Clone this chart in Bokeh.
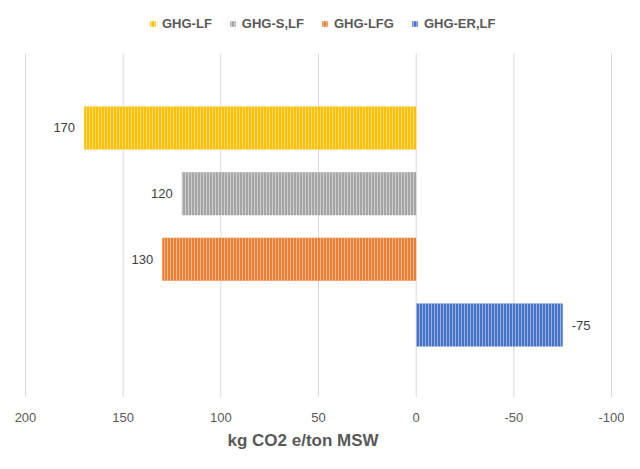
from bokeh.plotting import figure
from bokeh.models import (ColumnDataSource, Range1d, FixedTicker, Legend, LegendItem,
                          CustomJSTickFormatter, Title)
from bokeh.core.properties import value
from bokeh.embed import file_html
from bokeh.resources import INLINE

# ---- data ----
categories = ["GHG-LF", "GHG-S,LF", "GHG-LFG", "GHG-ER,LF"]
emissions = [170, 120, 130, -75]
colors = ["#FFC000", "#A5A5A5", "#ED7D31", "#4472C4"]
x_ticks = [200, 150, 100, 50, 0, -50, -100]
axis_title = "kg CO2 e/ton MSW"

FONT = "Liberation Sans"
Y_TOP, Y_BOTTOM = -1.9415, 4.104      # visible y range (category units)
GRID_TOP = -1.1345                    # gridlines start below the legend

positions = list(range(len(categories)))
labels = [str(v) for v in emissions]
aligns = ["right" if v >= 0 else "left" for v in emissions]
offsets = [-9 if v >= 0 else 9 for v in emissions]

src = ColumnDataSource(dict(y=positions, v=emissions, cat=categories, color=colors,
                            label=labels, align=aligns, off=offsets))
grid_src = ColumnDataSource(dict(x=x_ticks, y0=[GRID_TOP] * len(x_ticks),
                                 y1=[Y_BOTTOM] * len(x_ticks)))

p = figure(width=624, height=453, output_backend="svg", toolbar_location=None,
           x_range=Range1d(200.5, -100.5), y_range=Range1d(Y_BOTTOM, Y_TOP),
           y_axis_location=None, min_border_left=24, min_border_right=12,
           min_border_top=0, min_border_bottom=56)
p.outline_line_color = None
p.background_fill_color = "white"
p.border_fill_color = "white"
p.grid.visible = False

p.segment(x0="x", x1="x", y0="y0", y1="y1", source=grid_src,
          line_color="#D9D9D9", line_width=1)

bars = p.hbar(y="y", left=0, right="v", height=0.655, source=src,
              fill_color="color", line_color=None,
              hatch_pattern="vertical_line", hatch_color="white",
              hatch_scale=3, hatch_weight=1, hatch_alpha=0.45)

p.text(x="v", y="y", text="label", source=src, text_align="align", x_offset="off",
       text_baseline="middle", text_font=value(FONT), text_font_size="13px",
       text_color="#404040")

# axis
p.xaxis.ticker = FixedTicker(ticks=x_ticks)
p.xaxis.formatter = CustomJSTickFormatter(code="return String(tick)")
p.xaxis.axis_line_color = None
p.xaxis.major_tick_line_color = None
p.xaxis.minor_tick_line_color = None
p.xaxis.major_label_standoff = 9
p.xaxis.major_label_text_font = FONT
p.xaxis.major_label_text_font_size = "13px"
p.xaxis.major_label_text_color = "#595959"

p.add_layout(Title(text=axis_title, align="left", offset=203, standoff=8,
                   text_font=FONT, text_font_size="17px", text_font_style="bold",
                   text_color="#595959"), "below")

items = [LegendItem(label=c, renderers=[bars], index=i) for i, c in enumerate(categories)]
legend = Legend(items=items, orientation="horizontal", location=(125, 366),
                glyph_width=7, glyph_height=7, label_standoff=6, spacing=17,
                padding=0, margin=0, border_line_color=None, background_fill_alpha=0,
                label_text_font=FONT, label_text_font_size="13px",
                label_text_font_style="bold", label_text_color="#595959",
                label_height=14)
p.add_layout(legend)

open("out.html", "w").write(file_html(p, INLINE))
